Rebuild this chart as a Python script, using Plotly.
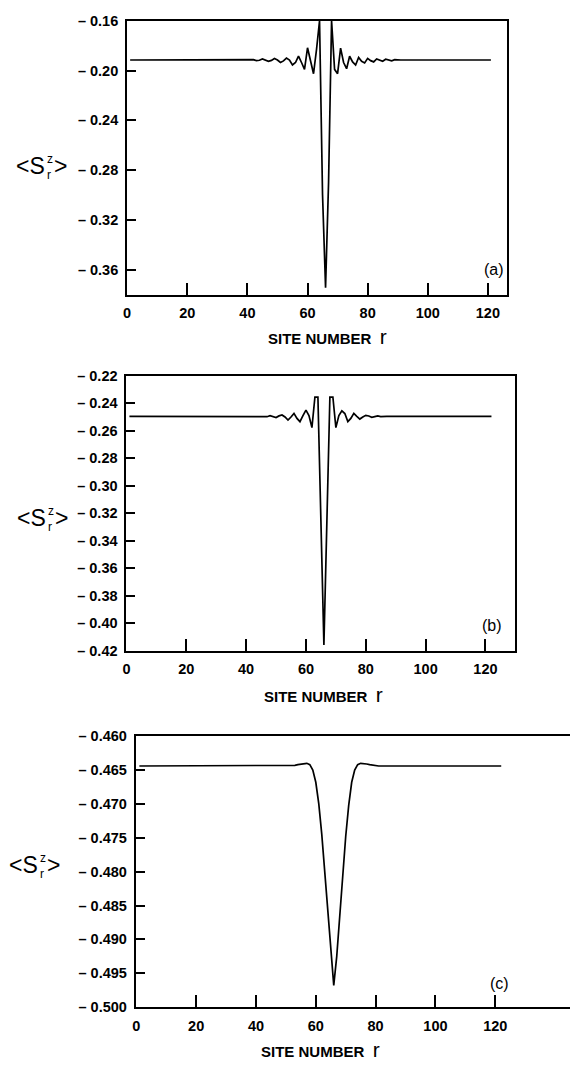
import plotly.graph_objects as go

W, H = 570, 1068

# ---------------- data ----------------
# panel (a)
sites_a = list(range(1, 122))
plateau_a = -0.1915
core_start_a = 41
core_a = [-0.1915, -0.1912, -0.1920, -0.1917, -0.1907, -0.1914, -0.1926, -0.1918,
          -0.1903, -0.1915, -0.1935, -0.1922, -0.1900, -0.1915, -0.1955, -0.1935,
          -0.1883, -0.1935, -0.1990, -0.1817, -0.1920, -0.2025, -0.1830, -0.1600,
          -0.3000, -0.3745, -0.2900, -0.1600, -0.1990, -0.2025, -0.1820, -0.1935,
          -0.1985, -0.1885, -0.1930, -0.1955, -0.1895, -0.1925, -0.1938, -0.1902,
          -0.1920, -0.1930, -0.1906, -0.1918, -0.1925, -0.1909, -0.1917, -0.1921,
          -0.1912, -0.1915]

# panel (b)
sites_b = list(range(1, 123))
plateau_b = -0.2495
core_start_b = 45
core_b = [-0.2495, -0.2493, -0.2498, -0.2491, -0.2500, -0.2504, -0.2492, -0.2485,
          -0.2500, -0.2522, -0.2500, -0.2474, -0.2510, -0.2534, -0.2490, -0.2450,
          -0.2490, -0.2577, -0.2355, -0.2355, -0.3256, -0.4157, -0.3256, -0.2355,
          -0.2355, -0.2577, -0.2490, -0.2455, -0.2475, -0.2534, -0.2510, -0.2474,
          -0.2495, -0.2515, -0.2500, -0.2488, -0.2493, -0.2502, -0.2497, -0.2492,
          -0.2497, -0.2494, -0.2495]

# panel (c)
sites_c = list(range(1, 123))
plateau_c = -0.4644
core_start_c = 50
core_c = [-0.4644, -0.4644, -0.4643, -0.4643, -0.4642, -0.4641, -0.4640, -0.4640,
          -0.4642, -0.4650, -0.4668, -0.4700, -0.4745, -0.4800, -0.4860, -0.4920,
          -0.4968, -0.4925, -0.4865, -0.4805, -0.4748, -0.4702, -0.4668, -0.4650,
          -0.4642, -0.4640, -0.4640, -0.4641, -0.4642, -0.4643, -0.4643, -0.4644,
          -0.4644]

x_ticks = [0, 20, 40, 60, 80, 100, 120]
y_ticks_a = [-0.16, -0.20, -0.24, -0.28, -0.32, -0.36]
y_ticks_b = [-0.22, -0.24, -0.26, -0.28, -0.30, -0.32, -0.34, -0.36, -0.38, -0.40, -0.42]
y_ticks_c = [-0.460, -0.465, -0.470, -0.475, -0.480, -0.485, -0.490, -0.495, -0.500]
labels_a = ["\u2013 0.16", "\u2013 0.20", "\u2013 0.24", "\u2013 0.28", "\u2013 0.32", "\u2013 0.36"]
labels_b = ["\u2013 0.22", "\u2013 0.24", "\u2013 0.26", "\u2013 0.28", "\u2013 0.30", "\u2013 0.32",
            "\u2013 0.34", "\u2013 0.36", "\u2013 0.38", "\u2013 0.40", "\u2013 0.42"]
labels_c = ["\u2013 0.460", "\u2013 0.465", "\u2013 0.470", "\u2013 0.475", "\u2013 0.480",
            "\u2013 0.485", "\u2013 0.490", "\u2013 0.495", "\u2013 0.500"]


def build(sites, plateau, start, core):
    vals = [plateau] * len(sites)
    for i, v in enumerate(core):
        vals[sites.index(start + i)] = v
    return vals


vals_a = build(sites_a, plateau_a, core_start_a, core_a)
vals_b = build(sites_b, plateau_b, core_start_b, core_b)
vals_c = build(sites_c, plateau_c, core_start_c, core_c)

# ---------------- layout helpers ----------------
def fx(px):
    return px / W


def fy(py):
    return 1 - py / H


FONT = "Liberation Sans"
line_style = dict(color="black", width=1.7)

fig = go.Figure()
fig.add_trace(go.Scatter(x=sites_a, y=vals_a, mode="lines", line=line_style, xaxis="x", yaxis="y"))
fig.add_trace(go.Scatter(x=sites_b, y=vals_b, mode="lines", line=line_style, xaxis="x2", yaxis="y2"))
fig.add_trace(go.Scatter(x=sites_c, y=vals_c, mode="lines", line=line_style, xaxis="x3", yaxis="y3"))

tickfont = dict(family=FONT, size=14.5, color="black", weight="bold")


def xax(domain, rng, anchor, mirror=True):
    return dict(domain=domain, range=rng, anchor=anchor, showline=True, linewidth=2,
                linecolor="black", mirror=mirror, ticks="inside", ticklen=12, tickwidth=2,
                tickcolor="black", tickvals=x_ticks, ticktext=[str(t) for t in x_ticks],
                tickfont=tickfont, showgrid=False, zeroline=False, ticklabelstandoff=4)


def yax(domain, rng, anchor, vals, text, mirror=True):
    return dict(domain=domain, range=rng, anchor=anchor, showline=True, linewidth=2,
                linecolor="black", mirror=mirror, ticks="inside", ticklen=9, tickwidth=2,
                tickcolor="black", tickvals=vals, ticktext=text, tickfont=tickfont,
                showgrid=False, zeroline=False, ticklabelstandoff=4)


fig.update_layout(
    width=W, height=H, margin=dict(l=0, r=0, t=0, b=0),
    paper_bgcolor="white", plot_bgcolor="white", showlegend=False,
    xaxis=xax([fx(124), fx(507)], [0, 126.5], "y"),
    yaxis=yax([fy(291), fy(13)], [-0.38, -0.16], "x", y_ticks_a, labels_a),
    xaxis2=xax([fx(123.3), fx(515)], [0, 130], "y2"),
    yaxis2=yax([fy(652.7), fy(373.3)], [-0.42, -0.22], "x2", y_ticks_b, labels_b),
    xaxis3=xax([fx(132.7), 1.0], [-0.2, 145], "y3"),
    yaxis3=yax([fy(1014.3), fy(739.3)], [-0.500, -0.460], "x3", y_ticks_c, labels_c, mirror=False),
)

ann = []


def text(px, py, s, size=14, weight="bold", xanchor="center", yanchor="middle"):
    ann.append(dict(x=fx(px), y=fy(py), xref="paper", yref="paper", text=s, showarrow=False,
                    xanchor=xanchor, yanchor=yanchor, borderpad=0,
                    font=dict(family=FONT, size=size, color="black", weight=weight)))


def ylabel(x0, yc):
    text(x0 + 27, yc, "&lt;S", size=23, weight="normal", xanchor="right")
    text(x0 + 27.5, yc + 1, "z", size=12, weight="normal", xanchor="left", yanchor="bottom")
    text(x0 + 27.5, yc + 1, "r", size=12, weight="normal", xanchor="left", yanchor="top")
    text(x0 + 34, yc, "&gt;", size=23, weight="normal", xanchor="left")


xtitle = "SITE NUMBER  <span style='font-size:21px;font-weight:normal'>r</span>"
text(326, 334, xtitle, size=15)
text(322, 697, xtitle, size=15)
text(319, 1057, xtitle, size=15)

ylabel(15, 160)
ylabel(16, 518)
ylabel(8, 870)

text(493, 265, "(a)", size=16, weight="normal")
text(491, 627, "(b)", size=16, weight="normal")
text(499, 990, "(c)", size=16, weight="normal")

fig.update_layout(annotations=ann)
fig.write_html("out.html")
